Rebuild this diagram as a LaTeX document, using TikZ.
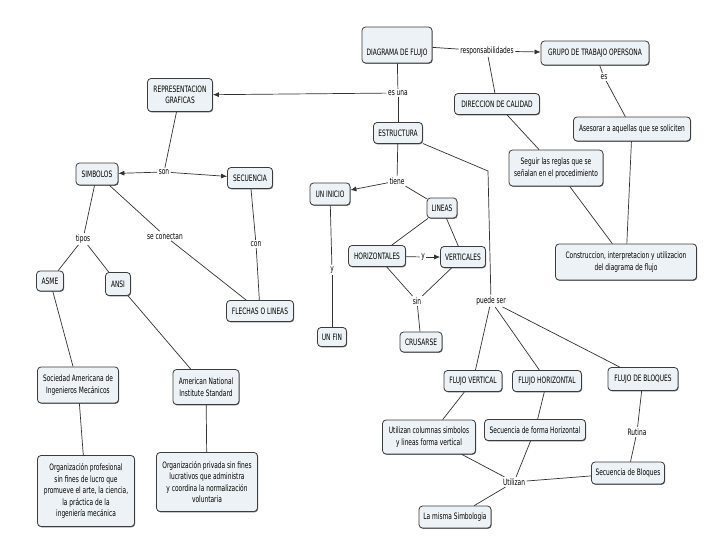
\documentclass[tikz,border=0pt]{standalone}
\usepackage{fontspec}
\setmainfont{DejaVu Sans}[FakeStretch=0.67]
\usetikzlibrary{arrows.meta,shadows}
\definecolor{boxfill}{RGB}{236,242,245}
\definecolor{boxdraw}{RGB}{60,60,60}
\definecolor{linkcol}{RGB}{50,50,50}
\tikzset{
 concept/.style={draw=boxdraw, fill=boxfill, rounded corners=3.5pt, line width=0.8pt,
   font=\fontsize{8.8}{11.5}\selectfont, align=center, inner sep=1pt,
   drop shadow={shadow xshift=0.6pt,shadow yshift=-0.8pt,fill=black!60,opacity=1}},
 lbl/.style={font=\fontsize{8.8}{10}\selectfont, inner sep=1.5pt, fill=white},
 link/.style={draw=linkcol, line width=0.7pt},
 arr/.style={link, -{Latex[length=6pt,width=5pt]}},
}
\begin{document}
\begin{tikzpicture}[x=1pt,y=-1pt]
\useasboundingbox[fill=white] (0,0) rectangle (728,546);
% concepts
\node[concept, minimum width=70pt, minimum height=36pt, text height=24pt, text depth=4pt, inner ysep=4pt] (diag) at (397,45) {DIAGRAMA DE FLUJO};
\node[concept, minimum width=108pt, minimum height=24pt] (grupo) at (595,53) {GRUPO DE TRABAJO OPERSONA};
\node[concept, minimum width=117pt, minimum height=24pt] (asesorar) at (632,129) {Asesorar a aquellas que se soliciten};
\node[concept, minimum width=85pt, minimum height=21pt] (direccion) at (497,104) {DIRECCION DE CALIDAD};
\node[concept, minimum width=94pt, minimum height=36pt] (seguir) at (556,168) {Seguir las reglas que se\\señalan en el procedimiento};
\node[concept, minimum width=141pt, minimum height=36pt] (constr) at (626,262) {Construccion, interpretacion y utilizacion\\del diagrama de flujo};
\node[concept, minimum width=65pt, minimum height=33pt] (repr) at (180,95) {REPRESENTACION\\GRAFICAS};
\node[concept, minimum width=49pt, minimum height=21pt] (estr) at (398,133) {ESTRUCTURA};
\node[concept, minimum width=42pt, minimum height=22pt] (simb) at (97,174) {SIMBOLOS};
\node[concept, minimum width=45pt, minimum height=21pt] (secu) at (250,178) {SECUENCIA};
\node[concept, minimum width=40pt, minimum height=22pt] (inicio) at (330,194) {UN INICIO};
\node[concept, minimum width=30pt, minimum height=20pt] (lineas) at (442,208) {LINEAS};
\node[concept, minimum width=57pt, minimum height=21pt] (horiz) at (377,256) {HORIZONTALES};
\node[concept, minimum width=45pt, minimum height=21pt] (vert) at (463,257) {VERTICALES};
\node[concept, minimum width=42pt, minimum height=20pt] (crus) at (421,342) {CRUSARSE};
\node[concept, minimum width=29pt, minimum height=19pt] (fin) at (332,337) {UN FIN};
\node[concept, minimum width=27pt, minimum height=20pt] (asme) at (50,281) {ASME};
\node[concept, minimum width=25pt, minimum height=23pt] (ansi) at (118,284) {ANSI};
\node[concept, minimum width=67pt, minimum height=21pt] (flechas) at (260,311) {FLECHAS O LINEAS};
\node[concept, minimum width=81pt, minimum height=36pt] (soc) at (78,385) {Sociedad Americana de\\Ingenieros Mecánicos};
\node[concept, minimum width=66pt, minimum height=35pt] (amer) at (206,387) {American National\\Institute Standard};
\node[concept, minimum width=97pt, minimum height=71pt] (orgprof) at (86,491) {Organización profesional\\sin fines de lucro que\\promueve el arte, la ciencia,\\la práctica de la\\ingeniería mecánica};
\node[concept, minimum width=101pt, minimum height=59pt] (orgpriv) at (207,482) {Organización privada sin fines\\lucrativos que administra\\y coordina la normalización\\voluntaria};
\node[concept, minimum width=58pt, minimum height=21pt] (fvert) at (473,381) {FLUJO VERTICAL};
\node[concept, minimum width=69pt, minimum height=21pt] (fhoriz) at (547,381) {FLUJO HORIZONTAL};
\node[concept, minimum width=70pt, minimum height=23pt] (fbloq) at (643,379) {FLUJO DE BLOQUES};
\node[concept, minimum width=93pt, minimum height=34pt] (ucol) at (429,437) {Utilizan columnas simbolos\\y lineas forma vertical};
\node[concept, minimum width=101pt, minimum height=21pt] (sfh) at (535,430) {Secuencia de forma Horizontal};
\node[concept, minimum width=73pt, minimum height=22pt] (sbloq) at (628,473) {Secuencia de Bloques};
\node[concept, minimum width=72pt, minimum height=22pt] (misma) at (455,517) {La misma Simbologia};
% linking phrases
\node[lbl] (resp) at (487,51) {responsabilidades};
\node[lbl] (es) at (604,77) {es};
\node[lbl] (esuna) at (398,93) {es una};
\node[lbl] (son) at (164,172) {son};
\node[lbl] (tipos) at (83,239) {tipos};
\node[lbl] (secon) at (165,236) {se conectan};
\node[lbl] (con) at (256,244) {con};
\node[lbl] (tiene) at (397,181) {tiene};
\node[lbl] (yl) at (423,257) {y};
\node[lbl] (yv) at (332,270) {y};
\node[lbl] (sin) at (417,301) {sin};
\node[lbl] (puede) at (491,301) {puede ser};
\node[lbl] (util) at (514,482) {Utilizan};
\node[lbl] (rutina) at (637,432) {Rutina};
\coordinate (bend) at (488,171);
% connectors
\draw[link] (diag) -- (resp);
\draw[arr] (resp) -- (grupo);
\draw[link] (resp) -- (direccion);
\draw[link] (grupo) -- (es);
\draw[link] (es) -- (asesorar);
\draw[link] (direccion) -- (seguir);
\draw[link] (seguir) -- (constr);
\draw[link] (asesorar) -- (constr);
\draw[link] (diag) -- (esuna);
\draw[link] (esuna) -- (estr);
\draw[arr] (esuna) -- (repr);
\draw[link] (repr) -- (son);
\draw[arr] (son) -- (simb);
\draw[arr] (son) -- (secu);
\draw[link] (simb) -- (tipos);
\draw[link] (tipos) -- (asme);
\draw[link] (tipos) -- (ansi);
\draw[link] (simb) -- (secon);
\draw[link] (secon) -- (flechas);
\draw[link] (secu) -- (con);
\draw[link] (con) -- (flechas);
\draw[link] (asme) -- (soc);
\draw[link] (soc) -- (orgprof);
\draw[link] (ansi) -- (amer);
\draw[link] (amer) -- (orgpriv);
\draw[link] (estr) -- (tiene);
\draw[arr] (tiene) -- (inicio);
\draw[link] (tiene) -- (lineas);
\draw[link] (lineas) -- (horiz);
\draw[link] (lineas) -- (vert);
\draw[link] (horiz) -- (yl);
\draw[arr] (yl) -- (vert);
\draw[link] (horiz) -- (sin);
\draw[link] (vert) -- (sin);
\draw[link] (sin) -- (crus);
\draw[link] (inicio) -- (yv);
\draw[link] (yv) -- (fin);
\draw[link] (estr) -- (bend) -- (puede);
\draw[link] (puede) -- (fvert);
\draw[link] (puede) -- (fhoriz);
\draw[link] (puede) -- (fbloq);
\draw[link] (fvert) -- (ucol);
\draw[link] (ucol) -- (util);
\draw[link] (fhoriz) -- (sfh);
\draw[link] (sfh) -- (util);
\draw[link] (fbloq) -- (rutina);
\draw[link] (rutina) -- (sbloq);
\draw[link] (sbloq) -- (util);
\draw[link] (util) -- (misma);
\end{tikzpicture}
\end{document}
